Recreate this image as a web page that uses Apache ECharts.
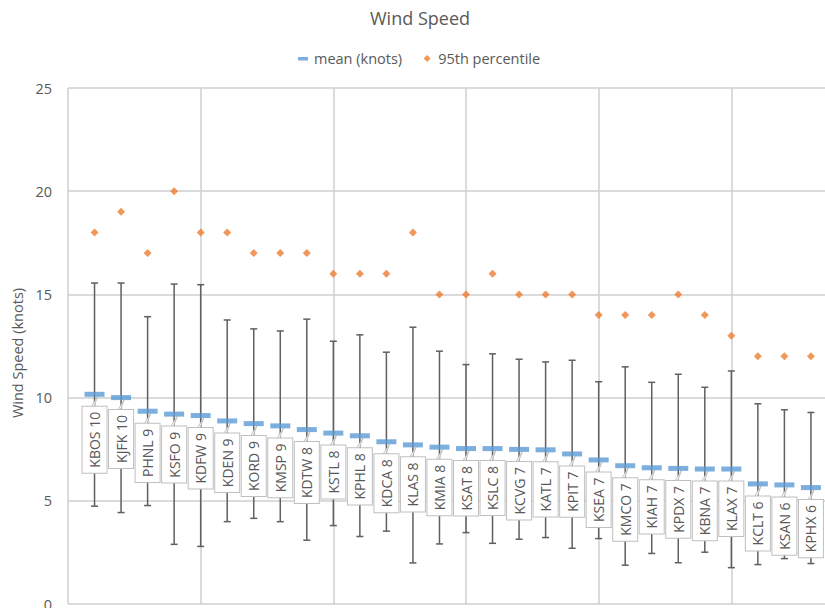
<!DOCTYPE html>
<html>
<head>
<meta charset="utf-8">
<script src="https://cdn.jsdelivr.net/npm/echarts@6/dist/echarts.min.js"></script>
<style>
html,body{margin:0;padding:0;background:#fff;}
#chart{width:825px;height:608px;}
</style>
</head>
<body>
<div id="chart"></div>
<script>
// ---- data ----
const stations = ['KBOS','KJFK','PHNL','KSFO','KDFW','KDEN','KORD','KMSP','KDTW','KSTL','KPHL','KDCA','KLAS','KMIA','KSAT','KSLC','KCVG','KATL','KPIT','KSEA','KMCO','KIAH','KPDX','KBNA','KLAX','KCLT','KSAN','KPHX'];
const meanKnots = [10.16,10.0,9.34,9.2,9.13,8.87,8.74,8.63,8.45,8.28,8.15,7.86,7.71,7.6,7.53,7.53,7.49,7.47,7.27,6.98,6.70,6.6,6.57,6.54,6.54,5.82,5.77,5.64];
const errHigh = [15.55,15.55,13.92,15.5,15.47,13.76,13.33,13.23,13.8,12.73,13.04,12.2,13.41,12.25,11.6,12.12,11.86,11.73,11.81,10.77,11.49,10.74,11.13,10.5,11.29,9.7,9.41,9.28];
const errLow = [4.74,4.43,4.77,2.89,2.79,3.99,4.15,3.99,3.09,3.8,3.27,3.53,1.99,2.91,3.46,2.94,3.14,3.22,2.7,3.17,1.88,2.45,2.0,2.51,1.76,1.91,2.2,1.96];
const pct95 = [18,19,17,20,18,18,17,17,17,16,16,16,18,15,15,16,15,15,15,14,14,14,15,14,13,12,12,12];
const yTicks = [0,5,10,15,20,25];

// ---- build ----
const FONT = '"Open Sans", "Noto Sans", sans-serif';
const TXT = '#595959';
const meanData = meanKnots.map((v,i)=>[i+1, v]);
const p95Data = pct95.map((v,i)=>[i+1, v]);
const errData = meanKnots.map((v,i)=>[i+1, errLow[i], errHigh[i], v]);
const labelText = stations.map((s,i)=> s + ' ' + Math.round(meanKnots[i]));

const chart = echarts.init(document.getElementById('chart'), null, {renderer:'svg'});
const option = {
  animation:false,
  backgroundColor:'#fff',
  title:{
    text:'Wind Speed', left:370, top:9, padding:0,
    textStyle:{color:TXT, fontFamily:FONT, fontSize:18, fontWeight:'normal'}
  },
  legend:{
    left:297, top:51, padding:0, itemGap:19, itemWidth:12, itemHeight:10,
    textStyle:{color:TXT, fontFamily:FONT, fontSize:14.5},
    data:[
      {name:'mean (knots)', icon:'path://M0,0L12,0M1,3.5h10v3.5h-10zM0,10L12,10'},
      {name:'95th percentile', icon:'path://M0,0L12,0M6,1.5L9.5,5L6,8.5L2.5,5ZM0,10L12,10'}
    ]
  },
  grid:{left:68, top:88, width:796, height:516, containLabel:false, outerBoundsMode:'none'},
  xAxis:{
    type:'value', min:0, max:30, interval:5,
    axisLine:{show:false}, axisTick:{show:false}, axisLabel:{show:false},
    splitLine:{show:true, lineStyle:{color:'#cfcfcf', width:1.5}}
  },
  yAxis:{
    type:'value', min:yTicks[0], max:yTicks[yTicks.length-1], interval:5,
    name:'Wind Speed (knots)', nameLocation:'middle', nameGap:39,
    nameTextStyle:{color:TXT, fontFamily:FONT, fontSize:14.5, padding:[0,14,0,0]},
    axisLine:{show:false}, axisTick:{show:false},
    axisLabel:{color:TXT, fontFamily:FONT, fontSize:14.5, margin:16},
    splitLine:{show:true, lineStyle:{color:'#cfcfcf', width:1.5}}
  },
  series:[
    {
      name:'err', type:'custom', data:errData, silent:true,
      renderItem:function(params, api){
        const x = api.value(0);
        const pl = api.coord([x, api.value(1)]);
        const ph = api.coord([x, api.value(2)]);
        const st = {stroke:'#5f5f5f', lineWidth:1.5};
        return {type:'group', children:[
          {type:'line', shape:{x1:pl[0], y1:pl[1], x2:ph[0], y2:ph[1]}, style:st},
          {type:'line', shape:{x1:pl[0]-3.5, y1:pl[1], x2:pl[0]+3.5, y2:pl[1]}, style:st},
          {type:'line', shape:{x1:ph[0]-3.5, y1:ph[1], x2:ph[0]+3.5, y2:ph[1]}, style:st}
        ]};
      }
    },
    {
      name:'labels', type:'custom', data:meanData, silent:true,
      renderItem:function(params, api){
        const p = api.coord([api.value(0), api.value(1)]);
        const top = p[1] + 12.5;
        return {type:'group', children:[
          {type:'polygon', shape:{points:[[p[0]-4, top+1],[p[0]+3, p[1]+2.5],[p[0]-1, top+1]]},
           style:{fill:'#fff', stroke:'#bfbfbf', lineWidth:1}},
          {type:'text', x:p[0], y:top, rotation:Math.PI/2,
           style:{text:labelText[params.dataIndex], align:'right', verticalAlign:'middle',
                  fill:TXT, fontFamily:FONT, fontSize:14, lineHeight:15,
                  backgroundColor:'#fff', borderColor:'#bfbfbf', borderWidth:1, padding:[4.5,5]}}
        ]};
      }
    },
    {
      name:'95th percentile', type:'scatter', data:p95Data,
      symbol:'diamond', symbolSize:8,
      itemStyle:{color:'#ed7d31'}
    },
    {
      name:'mean (knots)', type:'scatter', data:meanData,
      symbol:'rect', symbolSize:[20,5],
      itemStyle:{color:'#5b9bd5'}
    }
  ]
};
chart.setOption(option);
</script>
</body>
</html>
